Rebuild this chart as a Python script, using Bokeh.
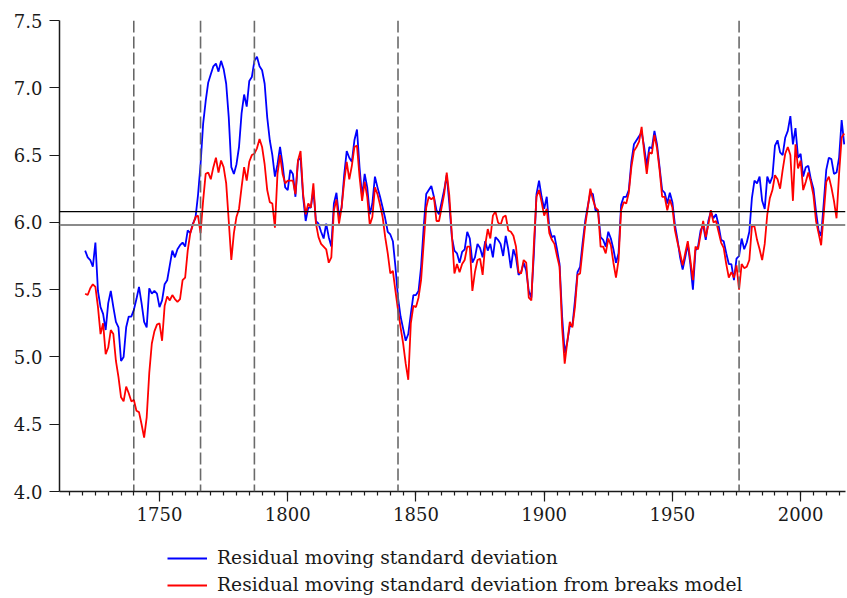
from bokeh.plotting import figure
from bokeh.layouts import column
from bokeh.models import Range1d, FixedTicker, Span, Legend, LegendItem, NumeralTickFormatter
from bokeh.embed import file_html
from bokeh.resources import INLINE

start_year = 1721

blue = [
    5.79, 5.74, 5.72, 5.67, 5.85, 5.49, 5.37, 5.32, 5.20, 5.40,  # 1721-1730
    5.49, 5.37, 5.26, 5.22, 4.97, 5.00, 5.22, 5.30, 5.30, 5.35,  # 1731-1740
    5.43, 5.52, 5.40, 5.26, 5.22, 5.51, 5.47, 5.49, 5.47, 5.37,  # 1741-1750
    5.42, 5.54, 5.57, 5.68, 5.79, 5.74, 5.80, 5.83, 5.85, 5.82,  # 1751-1760
    5.94, 5.92, 5.99, 6.03, 6.20, 6.43, 6.73, 6.90, 7.04, 7.10,  # 1761-1770
    7.16, 7.18, 7.12, 7.20, 7.14, 7.03, 6.78, 6.41, 6.36, 6.43,  # 1771-1780
    6.56, 6.81, 6.95, 6.86, 7.05, 7.08, 7.20, 7.23, 7.16, 7.13,  # 1781-1790
    7.03, 6.78, 6.61, 6.50, 6.34, 6.43, 6.56, 6.43, 6.26, 6.24,  # 1791-1800
    6.39, 6.36, 6.19, 6.46, 6.48, 6.19, 6.01, 6.11, 6.11, 6.24,  # 1801-1810
    6.01, 5.99, 5.93, 5.88, 5.99, 5.89, 5.82, 6.14, 6.22, 6.04,  # 1811-1820
    6.11, 6.35, 6.53, 6.48, 6.45, 6.61, 6.69, 6.41, 6.19, 6.36,  # 1821-1830
    6.26, 6.06, 6.14, 6.34, 6.26, 6.19, 6.11, 6.03, 5.93, 5.91,  # 1831-1840
    5.86, 5.67, 5.44, 5.30, 5.21, 5.12, 5.17, 5.32, 5.46, 5.46,  # 1841-1850
    5.49, 5.67, 5.96, 6.21, 6.24, 6.27, 6.19, 6.09, 6.06, 6.15,  # 1851-1860
    6.24, 6.35, 6.14, 5.89, 5.79, 5.77, 5.70, 5.78, 5.80, 5.93,  # 1861-1870
    5.88, 5.70, 5.74, 5.84, 5.81, 5.74, 5.86, 5.79, 5.84, 5.74,  # 1871-1880
    5.89, 5.87, 5.84, 5.75, 5.90, 5.80, 5.66, 5.80, 5.74, 5.61,  # 1881-1890
    5.63, 5.70, 5.64, 5.49, 5.44, 5.77, 6.21, 6.31, 6.19, 6.10,  # 1891-1900
    6.19, 5.96, 5.89, 5.90, 5.80, 5.69, 5.30, 5.03, 5.11, 5.23,  # 1901-1910
    5.23, 5.42, 5.63, 5.67, 5.85, 6.01, 6.12, 6.22, 6.21, 6.09,  # 1911-1920
    6.09, 5.89, 5.87, 5.82, 5.93, 5.88, 5.80, 5.70, 5.77, 6.13,  # 1921-1930
    6.19, 6.19, 6.24, 6.45, 6.58, 6.61, 6.64, 6.67, 6.56, 6.42,  # 1931-1940
    6.56, 6.55, 6.68, 6.58, 6.41, 6.24, 6.22, 6.14, 6.22, 6.15,  # 1941-1950
    5.98, 5.87, 5.74, 5.65, 5.74, 5.84, 5.69, 5.50, 5.79, 5.82,  # 1951-1960
    5.94, 5.98, 5.87, 6.01, 6.08, 6.03, 6.06, 5.98, 5.87, 5.86,  # 1961-1970
    5.77, 5.69, 5.69, 5.57, 5.73, 5.75, 5.88, 5.80, 5.85, 5.93,  # 1971-1980
    6.18, 6.31, 6.29, 6.34, 6.16, 6.10, 6.34, 6.29, 6.34, 6.57,  # 1981-1990
    6.61, 6.52, 6.50, 6.63, 6.68, 6.79, 6.58, 6.70, 6.48, 6.51,  # 1991-2000
    6.34, 6.41, 6.42, 6.32, 6.25, 6.08, 5.94, 5.90, 6.14, 6.39,  # 2001-2010
    6.48, 6.47, 6.36, 6.37, 6.48, 6.76, 6.58,                    # 2011-2017
]

red = [
    5.47, 5.46, 5.51, 5.54, 5.52, 5.37, 5.17, 5.25, 5.02, 5.07,  # 1721-1730
    5.20, 5.17, 4.97, 4.85, 4.70, 4.67, 4.78, 4.73, 4.67, 4.68,  # 1731-1740
    4.60, 4.59, 4.50, 4.40, 4.55, 4.88, 5.10, 5.19, 5.24, 5.25,  # 1741-1750
    5.12, 5.38, 5.45, 5.42, 5.46, 5.43, 5.41, 5.43, 5.57, 5.59,  # 1751-1760
    5.79, 5.92, 5.98, 6.04, 6.05, 5.92, 6.16, 6.36, 6.37, 6.32,  # 1761-1770
    6.41, 6.48, 6.37, 6.46, 6.41, 6.29, 6.01, 5.72, 5.92, 6.04,  # 1771-1780
    6.10, 6.26, 6.41, 6.31, 6.45, 6.50, 6.51, 6.55, 6.62, 6.56,  # 1781-1790
    6.43, 6.24, 6.15, 6.14, 5.96, 6.36, 6.50, 6.36, 6.29, 6.31,  # 1791-1800
    6.31, 6.31, 6.21, 6.46, 6.53, 6.21, 6.06, 6.14, 6.11, 6.29,  # 1801-1810
    5.99, 5.89, 5.84, 5.82, 5.80, 5.70, 5.74, 6.09, 6.17, 5.99,  # 1811-1820
    6.11, 6.30, 6.45, 6.32, 6.42, 6.56, 6.57, 6.34, 6.16, 6.30,  # 1821-1830
    6.19, 5.98, 6.04, 6.26, 6.21, 6.13, 6.04, 5.89, 5.77, 5.62,  # 1831-1840
    5.64, 5.49, 5.35, 5.22, 5.10, 4.95, 4.83, 5.25, 5.38, 5.37,  # 1841-1850
    5.44, 5.57, 5.84, 6.11, 6.19, 6.17, 6.19, 6.01, 6.01, 6.11,  # 1851-1860
    6.21, 6.37, 6.20, 5.91, 5.62, 5.69, 5.63, 5.69, 5.72, 5.82,  # 1861-1870
    5.82, 5.49, 5.63, 5.72, 5.73, 5.61, 5.83, 5.95, 5.88, 6.05,  # 1871-1880
    6.08, 6.00, 5.98, 6.04, 6.05, 5.94, 5.93, 5.90, 5.82, 5.63,  # 1881-1890
    5.62, 5.72, 5.70, 5.44, 5.42, 5.84, 6.19, 6.24, 6.15, 6.05,  # 1891-1900
    6.10, 5.92, 5.87, 5.84, 5.75, 5.67, 5.22, 4.95, 5.11, 5.26,  # 1901-1910
    5.22, 5.37, 5.61, 5.62, 5.80, 5.98, 6.11, 6.25, 6.17, 6.11,  # 1911-1920
    6.09, 5.82, 5.82, 5.77, 5.88, 5.83, 5.70, 5.59, 5.72, 6.09,  # 1921-1930
    6.15, 6.14, 6.22, 6.41, 6.53, 6.56, 6.60, 6.71, 6.52, 6.36,  # 1931-1940
    6.52, 6.51, 6.65, 6.55, 6.39, 6.19, 6.19, 6.09, 6.17, 6.11,  # 1941-1950
    5.94, 5.85, 5.77, 5.68, 5.77, 5.86, 5.72, 5.57, 5.82, 5.80,  # 1951-1960
    5.91, 6.01, 5.89, 5.98, 6.09, 6.00, 6.01, 5.93, 5.85, 5.81,  # 1961-1970
    5.69, 5.59, 5.63, 5.59, 5.68, 5.50, 5.69, 5.66, 5.67, 5.72,  # 1971-1980
    5.97, 5.97, 5.87, 5.80, 5.72, 5.84, 6.06, 6.18, 6.24, 6.35,  # 1981-1990
    6.32, 6.25, 6.39, 6.51, 6.56, 6.50, 6.16, 6.58, 6.40, 6.46,  # 1991-2000
    6.24, 6.30, 6.37, 6.30, 6.20, 6.01, 5.92, 5.83, 6.06, 6.30,  # 2001-2010
    6.34, 6.26, 6.16, 6.03, 6.36, 6.63, 6.66,                    # 2011-2017
]

years = list(range(start_year, start_year + len(blue)))

break_years = [1740, 1766, 1787, 1843, 1976]
h_levels = [6.08, 5.98]
x_major_ticks = [1750, 1800, 1850, 1900, 1950, 2000]
x_minor_ticks = list(range(1715, 2016, 5))
y_ticks = [4.0, 4.5, 5.0, 5.5, 6.0, 6.5, 7.0, 7.5]

label_blue = "Residual moving standard deviation"
label_red = "Residual moving standard deviation from breaks model"

FONT = "DejaVu Serif"
BLUE = "#0000FF"
RED = "#FF0000"
LW = 1.8

p = figure(width=847, height=530,
           x_range=Range1d(1711, 2017.5), y_range=Range1d(4.0, 7.5),
           output_backend="svg", toolbar_location=None,
           min_border_left=59, min_border_right=2,
           min_border_top=20, min_border_bottom=39)

p.background_fill_color = "white"
p.border_fill_color = "white"
p.outline_line_color = None
p.xgrid.visible = False
p.ygrid.visible = False

rb = p.line(years, blue, line_color=BLUE, line_width=LW)
rr = p.line(years, red, line_color=RED, line_width=LW)

for i, yr in enumerate(break_years):
    if i == 0:
        s = Span(location=yr, dimension="height", line_color="#111111",
                 line_width=1.0, line_dash="12 4")
    else:
        s = Span(location=yr, dimension="height", line_color="#6a6a6a",
                 line_width=1.6, line_dash="12 4")
    p.add_layout(s)

p.add_layout(Span(location=h_levels[0], dimension="width",
                  line_color="#000000", line_width=1.2))
p.add_layout(Span(location=h_levels[1], dimension="width",
                  line_color="#8a8a8a", line_width=2.0))

# axes
p.xaxis.ticker = FixedTicker(ticks=x_major_ticks, minor_ticks=x_minor_ticks)
p.yaxis.ticker = FixedTicker(ticks=y_ticks)
p.yaxis.formatter = NumeralTickFormatter(format="0.0")

for ax in (p.xaxis, p.yaxis):
    ax.axis_line_color = "#1a1a1a"
    ax.axis_line_width = 1.5
    ax.major_tick_line_color = "#1a1a1a"
    ax.major_tick_line_width = 1.2
    ax.major_tick_in = 0
    ax.major_tick_out = 10
    ax.major_label_text_font = FONT
    ax.major_label_text_font_size = "18px"
    ax.major_label_text_color = "#1a1a1a"

p.xaxis.minor_tick_line_color = "#1a1a1a"
p.xaxis.minor_tick_line_width = 1.2
p.xaxis.minor_tick_in = 0
p.xaxis.minor_tick_out = 4
p.xaxis.major_label_standoff = 5
p.yaxis.minor_tick_line_color = None
p.yaxis.major_label_standoff = 7

# legend panel below the chart (its lines reuse the series, outside this panel's view)
p2 = figure(width=847, height=66, x_range=Range1d(0, 1), y_range=Range1d(0, 1),
            output_backend="svg", toolbar_location=None,
            x_axis_location=None, y_axis_location=None,
            min_border_left=0, min_border_right=0,
            min_border_top=0, min_border_bottom=0)
p2.outline_line_color = None
p2.xgrid.visible = False
p2.ygrid.visible = False
lb = p2.line(years, blue, line_color=BLUE, line_width=LW)
lr = p2.line(years, red, line_color=RED, line_width=LW)

legend = Legend(items=[LegendItem(label=label_blue, renderers=[lb]),
                       LegendItem(label=label_red, renderers=[lr])],
                orientation="vertical", location=(108, 1),
                glyph_width=40, glyph_height=20, label_height=20,
                label_standoff=10, spacing=6, padding=0, margin=0,
                border_line_color=None, background_fill_alpha=0,
                label_text_font=FONT, label_text_font_size="18.7px",
                label_text_color="#1a1a1a")
p2.add_layout(legend, "center")

layout = column(p, p2, spacing=0)
open("out.html", "w").write(file_html(layout, INLINE))
